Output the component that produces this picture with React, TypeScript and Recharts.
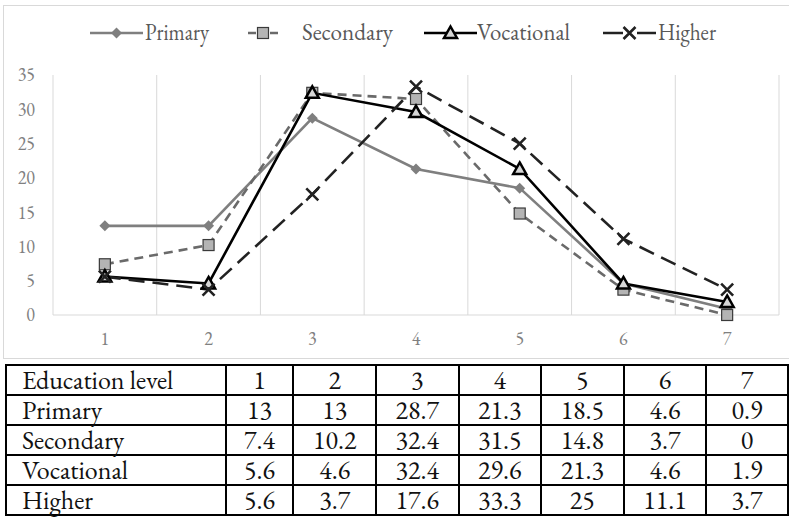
import { CartesianGrid, Legend, Line, LineChart, XAxis, YAxis } from "recharts";

const levels = ["1", "2", "3", "4", "5", "6", "7"];
const primary = [13, 13, 28.7, 21.3, 18.5, 4.6, 0.9];
const secondary = [7.4, 10.2, 32.4, 31.5, 14.8, 3.7, 0];
const vocational = [5.6, 4.6, 32.4, 29.6, 21.3, 4.6, 1.9];
const higher = [5.6, 3.7, 17.6, 33.3, 25, 11.1, 3.7];
const yTicks = [0, 5, 10, 15, 20, 25, 30, 35];

const data = levels.map((level, i) => ({
  level,
  Primary: primary[i],
  Secondary: secondary[i],
  Vocational: vocational[i],
  Higher: higher[i],
}));

const tableRows = [
  { name: "Primary", values: primary },
  { name: "Secondary", values: secondary },
  { name: "Vocational", values: vocational },
  { name: "Higher", values: higher },
];

const GARAMOND = "'EB Garamond', 'Liberation Serif', serif";
const tickStyle = { fontFamily: GARAMOND, fontSize: 18, fill: "#808080" };

// marker shapes, drawn around (cx, cy)
function Diamond({ cx, cy }: { cx: number; cy: number }) {
  const r = 5.5;
  return (
    <path
      d={`M${cx},${cy - r}L${cx + r},${cy}L${cx},${cy + r}L${cx - r},${cy}Z`}
      fill="#7f7f7f"
    />
  );
}

function Square({ cx, cy }: { cx: number; cy: number }) {
  return (
    <rect x={cx - 5.5} y={cy - 5.5} width={11} height={11} fill="#b4b4b4" stroke="#3a3a3a" strokeWidth={1.2} />
  );
}

function Triangle({ cx, cy }: { cx: number; cy: number }) {
  return (
    <path
      d={`M${cx},${cy - 6.5}L${cx + 6.5},${cy + 5}L${cx - 6.5},${cy + 5}Z`}
      fill="#d6d6d6"
      stroke="#000"
      strokeWidth={2.5}
    />
  );
}

function Cross({ cx, cy }: { cx: number; cy: number }) {
  const r = 6;
  return (
    <path
      d={`M${cx - r},${cy - r}L${cx + r},${cy + r}M${cx + r},${cy - r}L${cx - r},${cy + r}`}
      stroke="#222"
      strokeWidth={2.6}
      fill="none"
    />
  );
}

const series = [
  { key: "Primary", color: "#7f7f7f", dash: undefined, Marker: Diamond, sx: 90, tx: 145, tw: 64 },
  { key: "Secondary", color: "#6a6a6a", dash: "9 6", Marker: Square, sx: 248, tx: 302, tw: 91 },
  { key: "Vocational", color: "#000", dash: undefined, Marker: Triangle, sx: 424, tx: 477, tw: 93 },
  { key: "Higher", color: "#222", dash: "16 8", Marker: Cross, sx: 603, tx: 658, tw: 58 },
];

function ChartLegend() {
  return (
    <svg width={789} height={40}>
      {series.map(({ key, color, Marker, sx, tx, tw }) => {
        const symW = key === "Secondary" ? 30 : 53;
        return (
          <g key={key}>
            {key === "Secondary" ? (
              <>
                <line x1={sx} x2={sx + 8} y1={20} y2={20} stroke={color} strokeWidth={2.5} />
                <line x1={sx + 22} x2={sx + 30} y1={20} y2={20} stroke={color} strokeWidth={2.5} />
              </>
            ) : key === "Higher" ? (
              <>
                <line x1={sx} x2={sx + 20} y1={20} y2={20} stroke={color} strokeWidth={2.5} />
                <line x1={sx + 34} x2={sx + 53} y1={20} y2={20} stroke={color} strokeWidth={2.5} />
              </>
            ) : (
              <line x1={sx} x2={sx + symW} y1={20} y2={20} stroke={color} strokeWidth={2.5} />
            )}
            <Marker cx={sx + symW / 2} cy={20} />
            <text
              x={tx}
              y={27}
              fontFamily={GARAMOND}
              fontSize={23}
              fill="#595959"
              textLength={tw}
              lengthAdjust="spacingAndGlyphs"
            >
              {key}
            </text>
          </g>
        );
      })}
    </svg>
  );
}

const cell = {
  border: "2px solid #000",
  padding: 0,
  height: 28,
  textAlign: "center" as const,
  fontFamily: GARAMOND,
};

export default function App() {
  return (
    <div style={{ position: "fixed", left: 0, top: 0, width: 789, height: 517, overflow: "hidden", background: "#fff" }}>
      <div
        style={{
          position: "absolute",
          left: 3,
          top: 5,
          width: 800,
          height: 352,
          border: "1px solid #d9d9d9",
        }}
      />
      <div style={{ position: "absolute", left: 0, top: 0 }}>
        <LineChart width={789} height={357} data={data} margin={{ top: 35, right: 10, bottom: 12, left: 8 }}>
          <CartesianGrid
            horizontal={false}
            stroke="#d9d9d9"
            verticalCoordinatesGenerator={({ offset }: any) =>
              Array.from({ length: levels.length + 1 }, (_, i) => offset.left + (i * offset.width) / levels.length)
            }
          />
          <XAxis
            dataKey="level"
            scale="band"
            axisLine={{ stroke: "#d9d9d9" }}
            tickLine={false}
            tick={tickStyle}
            tickMargin={11}
            height={30}
          />
          <YAxis
            domain={[0, 35]}
            ticks={yTicks}
            axisLine={false}
            tickLine={false}
            tick={tickStyle}
            tickMargin={12}
            width={45}
          />
          <Legend verticalAlign="top" content={() => <ChartLegend />} wrapperStyle={{ top: 13, left: 0, width: 789, height: 40 }} />
          {series.map(({ key, color, dash, Marker }) => (
            <Line
              key={key}
              dataKey={key}
              type="linear"
              stroke={color}
              strokeWidth={2.6}
              strokeDasharray={dash}
              dot={(p: any) => <Marker key={`${key}-${p.index}`} cx={p.cx} cy={p.cy} />}
              activeDot={false}
              isAnimationActive={false}
            />
          ))}
        </LineChart>
      </div>
      <table
        style={{
          position: "absolute",
          left: 5,
          top: 364,
          borderCollapse: "collapse",
          tableLayout: "fixed",
          fontFamily: GARAMOND,
          fontSize: 26,
          color: "#111",
          lineHeight: 1,
        }}
      >
        <colgroup>
          <col style={{ width: 226 }} />
          <col style={{ width: 70 }} />
          {levels.slice(1).map((l) => (
            <col key={l} style={{ width: 85 }} />
          ))}
        </colgroup>
        <tbody>
          <tr>
            <td style={{ ...cell, textAlign: "left", paddingLeft: 15 }}>Education level</td>
            {levels.map((l) => (
              <td key={l} style={cell}>
                {l}
              </td>
            ))}
          </tr>
          {tableRows.map((row) => (
            <tr key={row.name}>
              <td style={{ ...cell, textAlign: "left", paddingLeft: 15 }}>{row.name}</td>
              {row.values.map((v, i) => (
                <td key={i} style={cell}>
                  {v}
                </td>
              ))}
            </tr>
          ))}
        </tbody>
      </table>
    </div>
  );
}
